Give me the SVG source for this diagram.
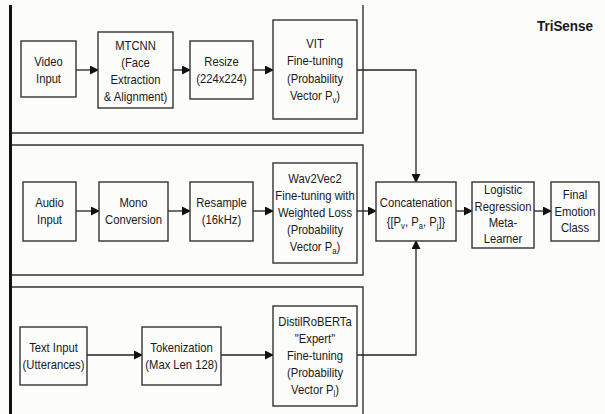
<svg xmlns="http://www.w3.org/2000/svg" width="605" height="414" viewBox="0 0 605 414">
<defs>
<marker id="ah" markerWidth="9" markerHeight="9" refX="8" refY="4.5" orient="auto" markerUnits="userSpaceOnUse">
<path d="M0,0 L9,4.5 L0,9 Z" fill="#111"/>
</marker>
<style>
.bx{fill:#fcfcfb;stroke:#333;stroke-width:1.4}
.pn{fill:none;stroke:#333;stroke-width:1.4}
.t{font-family:"Liberation Sans",Arial,sans-serif;font-size:12.5px;fill:#1a1a1a;text-anchor:middle}
.c{fill:none;stroke:#222;stroke-width:1.3}
.s{font-size:8.5px}
</style>
</defs>
<rect width="605" height="414" fill="#fcfcfb"/>
<g id="panels">
<line x1="10.5" y1="5" x2="10.5" y2="414" stroke="#111" stroke-width="3"/>
<path class="pn" d="M363,5 V133 H12"/>
<path class="pn" d="M12,145 H363 V275 H12"/>
<path class="pn" d="M12,287 H363 V414"/>
</g>
<g id="title"><text class="t" style="font-weight:bold;font-size:15px" transform="translate(565 31) scale(0.9 1)">TriSense</text></g>
<g id="connectors">
<line class="c" x1="76" y1="70" x2="98" y2="70" marker-end="url(#ah)"/>
<line class="c" x1="173" y1="70" x2="190" y2="70" marker-end="url(#ah)"/>
<line class="c" x1="253" y1="70" x2="273" y2="70" marker-end="url(#ah)"/>
<path class="c" d="M357,70 H416 V182" marker-end="url(#ah)"/>
<line class="c" x1="76" y1="211" x2="99" y2="211" marker-end="url(#ah)"/>
<line class="c" x1="168" y1="211" x2="190" y2="211" marker-end="url(#ah)"/>
<line class="c" x1="253" y1="211" x2="273" y2="211" marker-end="url(#ah)"/>
<line class="c" x1="357" y1="211" x2="376" y2="211" marker-end="url(#ah)"/>
<line class="c" x1="456" y1="211" x2="472" y2="211" marker-end="url(#ah)"/>
<line class="c" x1="534" y1="211" x2="551" y2="211" marker-end="url(#ah)"/>
<line class="c" x1="87" y1="355" x2="142" y2="355" marker-end="url(#ah)"/>
<line class="c" x1="221" y1="355" x2="273" y2="355" marker-end="url(#ah)"/>
<path class="c" d="M357,355 H416 V241" marker-end="url(#ah)"/>
</g>
<g id="video-input"><rect class="bx" x="21" y="41" width="55" height="56"/>
<text class="t" transform="translate(48.5 0) scale(0.9 1)"><tspan x="0" y="66">Video</tspan><tspan x="0" y="83">Input</tspan></text></g>
<g id="mtcnn"><rect class="bx" x="98" y="32" width="75" height="76"/>
<text class="t" transform="translate(135.5 0) scale(0.9 1)"><tspan x="0" y="50">MTCNN</tspan><tspan x="0" y="67">(Face</tspan><tspan x="0" y="84">Extraction</tspan><tspan x="0" y="101">&amp; Alignment)</tspan></text></g>
<g id="resize"><rect class="bx" x="190" y="41" width="63" height="58"/>
<text class="t" transform="translate(221.5 0) scale(0.9 1)"><tspan x="0" y="66">Resize</tspan><tspan x="0" y="83">(224x224)</tspan></text></g>
<g id="vit"><rect class="bx" x="273" y="20" width="84" height="99"/>
<text class="t" transform="translate(315 0) scale(0.9 1)"><tspan x="0" y="48">VIT</tspan><tspan x="0" y="65.5">Fine-tuning</tspan><tspan x="0" y="83">(Probability</tspan><tspan x="0" y="100.5">Vector P<tspan class="s" dy="3">v</tspan><tspan dy="-3">)</tspan></tspan></text></g>
<g id="audio-input"><rect class="bx" x="23" y="182" width="53" height="59"/>
<text class="t" transform="translate(49.5 0) scale(0.9 1)"><tspan x="0" y="207">Audio</tspan><tspan x="0" y="224">Input</tspan></text></g>
<g id="mono"><rect class="bx" x="99" y="182" width="69" height="59"/>
<text class="t" transform="translate(133.5 0) scale(0.9 1)"><tspan x="0" y="207">Mono</tspan><tspan x="0" y="224">Conversion</tspan></text></g>
<g id="resample"><rect class="bx" x="190" y="182" width="63" height="59"/>
<text class="t" transform="translate(221.5 0) scale(0.9 1)"><tspan x="0" y="207">Resample</tspan><tspan x="0" y="224">(16kHz)</tspan></text></g>
<g id="wav2vec2"><rect class="bx" x="273" y="163" width="84" height="100"/>
<text class="t" transform="translate(315 0) scale(0.9 1)"><tspan x="0" y="183">Wav2Vec2</tspan><tspan x="0" y="200">Fine-tuning with</tspan><tspan x="0" y="217">Weighted Loss</tspan><tspan x="0" y="234">(Probability</tspan><tspan x="0" y="251">Vector P<tspan class="s" dy="3">a</tspan><tspan dy="-3">)</tspan></tspan></text></g>
<g id="concatenation"><rect class="bx" x="376" y="182" width="80" height="59"/>
<text class="t" transform="translate(416 0) scale(0.9 1)"><tspan x="0" y="207">Concatenation</tspan><tspan x="0" y="226">{[P<tspan class="s" dy="3">v</tspan><tspan dy="-3">, P</tspan><tspan class="s" dy="3">a</tspan><tspan dy="-3">, P</tspan><tspan class="s" dy="3">j</tspan><tspan dy="-3">]}</tspan></tspan></text></g>
<g id="logistic"><rect class="bx" x="472" y="182" width="62" height="66"/>
<text class="t" transform="translate(503 0) scale(0.9 1)"><tspan x="0" y="194.5">Logistic</tspan><tspan x="0" y="211.5">Regression</tspan><tspan x="0" y="227.5">Meta-</tspan><tspan x="0" y="243.5">Learner</tspan></text></g>
<g id="final"><rect class="bx" x="551" y="182" width="48" height="59"/>
<text class="t" transform="translate(575 0) scale(0.9 1)"><tspan x="0" y="199.5">Final</tspan><tspan x="0" y="216">Emotion</tspan><tspan x="0" y="232.5">Class</tspan></text></g>
<g id="text-input"><rect class="bx" x="20" y="327" width="67" height="58"/>
<text class="t" transform="translate(53.5 0) scale(0.9 1)"><tspan x="0" y="352">Text Input</tspan><tspan x="0" y="369">(Utterances)</tspan></text></g>
<g id="tokenization"><rect class="bx" x="142" y="327" width="79" height="58"/>
<text class="t" transform="translate(181.5 0) scale(0.9 1)"><tspan x="0" y="352">Tokenization</tspan><tspan x="0" y="369">(Max Len 128)</tspan></text></g>
<g id="distilroberta"><rect class="bx" x="273" y="306" width="84" height="100"/>
<text class="t" transform="translate(315 0) scale(0.9 1)"><tspan x="0" y="326">DistilRoBERTa</tspan><tspan x="0" y="343">"Expert"</tspan><tspan x="0" y="360">Fine-tuning</tspan><tspan x="0" y="377">(Probability</tspan><tspan x="0" y="394">Vector P<tspan class="s" dy="3">l</tspan><tspan dy="-3">)</tspan></tspan></text></g>
</svg>
